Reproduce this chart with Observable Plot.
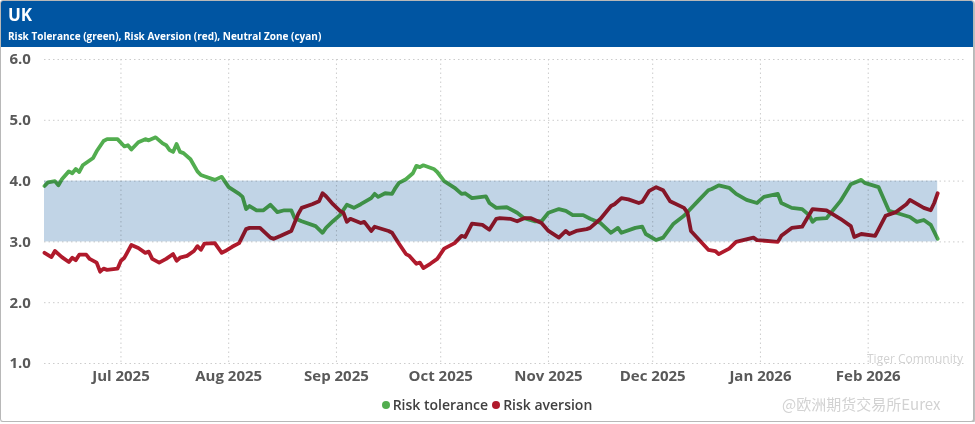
<!DOCTYPE html>
<html><head><meta charset="utf-8">
<script src="https://cdn.jsdelivr.net/npm/d3@7"></script>
<script src="https://cdn.jsdelivr.net/npm/@observablehq/plot@0.6"></script>
<style>
body{margin:0;background:#fff;font-family:"Open Sans",sans-serif;}
#card{position:relative;width:974px;height:422px;box-sizing:border-box;border:1px solid #b8b8b8;border-radius:3px;box-shadow:1px 1px 2px rgba(0,0,0,0.35);overflow:hidden;background:#fff}
#hdr{height:46px;background:#0055a2;color:#fff;position:relative}
#title{position:absolute;left:7px;top:2px;font-size:17px;font-weight:700}
#sub{position:absolute;left:7px;top:28px;font-size:10px;font-weight:700;white-space:nowrap}
#chart{position:absolute;left:0;top:46px}
#legend{position:absolute;left:0;width:100%;top:394px;text-align:center;font-size:14px;font-weight:600;color:#404040}
#legend span.dot{display:inline-block;width:8px;height:8px;border-radius:50%;margin-right:3px;vertical-align:1px}
.wm{position:absolute;color:#d2d2d2;white-space:nowrap}
</style>
</head><body>
<div id="card">
  <div id="hdr"><div id="title"></div><div id="sub"></div></div>
  <div id="chart"></div>
  <div id="legend"></div>
  <div class="wm" style="left:866px;top:349px;font-size:12px;">Tiger Community</div>
  <div class="wm" style="left:781px;top:392px;font-size:15px;font-family:'Noto Sans CJK SC',sans-serif;">@欧洲期货交易所Eurex</div>
</div>
<script>
const titleText = "UK";
const subtitleText = "Risk Tolerance (green), Risk Aversion (red), Neutral Zone (cyan)";
const seriesNames = ["Risk tolerance", "Risk aversion"];
const seriesColors = ["#52ad4f", "#b01a2c"];
const neutralZone = [3, 4];
const yTicks = [1, 2, 3, 4, 5, 6];
const monthTicks = ["2025-07-01","2025-08-01","2025-09-01","2025-10-01","2025-11-01","2025-12-01","2026-01-01","2026-02-01"];

const toleranceDates = ["2025-06-09","2025-06-10","2025-06-12","2025-06-13","2025-06-14","2025-06-16","2025-06-17","2025-06-18","2025-06-19","2025-06-20","2025-06-23","2025-06-24","2025-06-26","2025-06-27","2025-06-30","2025-07-02","2025-07-03","2025-07-04","2025-07-06","2025-07-08","2025-07-09","2025-07-11","2025-07-13","2025-07-14","2025-07-15","2025-07-16","2025-07-17","2025-07-18","2025-07-19","2025-07-21","2025-07-23","2025-07-24","2025-07-25","2025-07-28","2025-07-30","2025-08-01","2025-08-04","2025-08-05","2025-08-06","2025-08-07","2025-08-09","2025-08-11","2025-08-13","2025-08-15","2025-08-17","2025-08-19","2025-08-20","2025-08-22","2025-08-26","2025-08-28","2025-08-29","2025-08-31","2025-09-02","2025-09-04","2025-09-06","2025-09-08","2025-09-11","2025-09-12","2025-09-13","2025-09-15","2025-09-17","2025-09-18","2025-09-19","2025-09-21","2025-09-23","2025-09-24","2025-09-25","2025-09-26","2025-09-29","2025-09-30","2025-10-02","2025-10-05","2025-10-07","2025-10-08","2025-10-10","2025-10-14","2025-10-15","2025-10-17","2025-10-20","2025-10-23","2025-10-25","2025-10-28","2025-10-30","2025-11-01","2025-11-04","2025-11-06","2025-11-08","2025-11-11","2025-11-13","2025-11-16","2025-11-19","2025-11-21","2025-11-22","2025-11-26","2025-11-28","2025-11-29","2025-12-02","2025-12-04","2025-12-07","2025-12-10","2025-12-14","2025-12-17","2025-12-18","2025-12-20","2025-12-23","2025-12-25","2025-12-28","2025-12-31","2026-01-02","2026-01-06","2026-01-07","2026-01-10","2026-01-13","2026-01-15","2026-01-16","2026-01-17","2026-01-20","2026-01-24","2026-01-27","2026-01-30","2026-01-31","2026-02-04","2026-02-07","2026-02-09","2026-02-13","2026-02-15","2026-02-17","2026-02-19","2026-02-21"];
const toleranceValues = [3.92,3.98,4.00,3.93,4.03,4.16,4.13,4.20,4.15,4.26,4.38,4.49,4.66,4.69,4.69,4.57,4.59,4.52,4.64,4.69,4.67,4.72,4.62,4.59,4.51,4.48,4.61,4.48,4.46,4.36,4.16,4.10,4.08,4.02,4.07,3.90,3.79,3.74,3.54,3.59,3.52,3.52,3.61,3.49,3.52,3.52,3.39,3.34,3.26,3.15,3.23,3.34,3.44,3.61,3.56,3.62,3.72,3.79,3.74,3.80,3.79,3.89,3.97,4.03,4.13,4.25,4.23,4.26,4.20,4.15,4.00,3.89,3.79,3.80,3.72,3.75,3.64,3.56,3.57,3.48,3.39,3.34,3.34,3.48,3.54,3.51,3.44,3.44,3.38,3.31,3.15,3.23,3.15,3.23,3.25,3.13,3.03,3.07,3.30,3.43,3.67,3.85,3.87,3.93,3.89,3.79,3.69,3.64,3.74,3.79,3.64,3.56,3.54,3.44,3.33,3.38,3.39,3.67,3.95,4.02,3.97,3.90,3.51,3.48,3.41,3.33,3.36,3.28,3.05];

const aversionDates = ["2025-06-09","2025-06-11","2025-06-12","2025-06-14","2025-06-16","2025-06-17","2025-06-18","2025-06-19","2025-06-21","2025-06-22","2025-06-24","2025-06-25","2025-06-26","2025-06-27","2025-06-30","2025-07-01","2025-07-02","2025-07-04","2025-07-06","2025-07-08","2025-07-09","2025-07-10","2025-07-12","2025-07-14","2025-07-16","2025-07-17","2025-07-18","2025-07-20","2025-07-22","2025-07-23","2025-07-24","2025-07-25","2025-07-28","2025-07-30","2025-07-31","2025-08-02","2025-08-04","2025-08-06","2025-08-07","2025-08-10","2025-08-13","2025-08-14","2025-08-16","2025-08-19","2025-08-21","2025-08-22","2025-08-25","2025-08-27","2025-08-28","2025-08-29","2025-08-31","2025-09-02","2025-09-03","2025-09-04","2025-09-05","2025-09-08","2025-09-09","2025-09-11","2025-09-12","2025-09-16","2025-09-17","2025-09-19","2025-09-21","2025-09-22","2025-09-24","2025-09-25","2025-09-26","2025-09-28","2025-09-30","2025-10-02","2025-10-05","2025-10-07","2025-10-08","2025-10-10","2025-10-13","2025-10-15","2025-10-17","2025-10-18","2025-10-21","2025-10-23","2025-10-25","2025-10-27","2025-10-30","2025-11-01","2025-11-04","2025-11-06","2025-11-07","2025-11-09","2025-11-12","2025-11-13","2025-11-16","2025-11-19","2025-11-20","2025-11-22","2025-11-24","2025-11-27","2025-11-28","2025-11-30","2025-12-02","2025-12-04","2025-12-06","2025-12-10","2025-12-11","2025-12-12","2025-12-17","2025-12-19","2025-12-20","2025-12-23","2025-12-25","2025-12-30","2025-12-31","2026-01-06","2026-01-07","2026-01-10","2026-01-13","2026-01-16","2026-01-20","2026-01-24","2026-01-27","2026-01-28","2026-01-30","2026-02-03","2026-02-06","2026-02-09","2026-02-12","2026-02-13","2026-02-17","2026-02-19","2026-02-20","2026-02-21"];
const aversionValues = [2.82,2.75,2.85,2.75,2.67,2.74,2.70,2.79,2.79,2.72,2.66,2.51,2.56,2.54,2.56,2.69,2.74,2.95,2.90,2.82,2.84,2.72,2.66,2.72,2.80,2.69,2.74,2.77,2.85,2.93,2.87,2.97,2.98,2.82,2.85,2.92,2.98,3.21,3.23,3.23,3.07,3.05,3.10,3.18,3.46,3.56,3.62,3.67,3.80,3.75,3.62,3.51,3.48,3.33,3.38,3.31,3.33,3.18,3.25,3.18,3.15,2.97,2.80,2.77,2.64,2.66,2.57,2.64,2.72,2.89,2.98,3.10,3.08,3.30,3.28,3.20,3.38,3.39,3.38,3.34,3.39,3.39,3.31,3.18,3.07,3.18,3.13,3.18,3.21,3.23,3.38,3.59,3.62,3.72,3.70,3.64,3.66,3.84,3.90,3.85,3.67,3.56,3.48,3.18,2.87,2.85,2.80,2.89,3.00,3.07,3.03,3.00,3.10,3.23,3.25,3.54,3.52,3.38,3.26,3.08,3.13,3.10,3.43,3.49,3.62,3.69,3.56,3.52,3.64,3.80];

const parse = d3.utcParse("%Y-%m-%d");
const tolerance = toleranceDates.map((d, i) => ({date: parse(d), value: toleranceValues[i]}));
const aversion = aversionDates.map((d, i) => ({date: parse(d), value: aversionValues[i]}));
const xStart = tolerance[0].date, xEnd = tolerance[tolerance.length - 1].date;
const band = [{x1: xStart, x2: xEnd, y1: neutralZone[0], y2: neutralZone[1]}];
const ticks = monthTicks.map(parse);

document.getElementById("title").textContent = titleText;
document.getElementById("sub").textContent = subtitleText;

const plot = Plot.plot({
  width: 972,
  height: 345,
  marginTop: 12,
  marginBottom: 29,
  marginLeft: 43,
  marginRight: 8,
  style: {fontFamily: "'Open Sans', sans-serif", color: "#595959", background: "transparent"},
  x: {type: "utc", domain: [xStart, parse("2026-03-01")]},
  y: {domain: [1, 6]},
  marks: [
    Plot.gridX(ticks, {stroke: "#cccccc", strokeOpacity: 1, strokeDasharray: "1.5,3"}),
    Plot.gridY(yTicks, {stroke: "#cccccc", strokeOpacity: 1, strokeDasharray: "1.5,3"}),
    Plot.axisX(ticks, {tickSize: 0, tickPadding: 7, tickFormat: d3.utcFormat("%b %Y"), fontSize: 15, fontWeight: "bold", label: null}),
    Plot.axisY(yTicks, {tickSize: 0, tickPadding: 0, textAnchor: "start", dx: -35, tickFormat: d3.format(".1f"), fontSize: 15, fontWeight: "bold", label: null}),
    Plot.lineY(tolerance, {x: "date", y: "value", stroke: seriesColors[0], strokeWidth: 3.8, strokeLinejoin: "round"}),
    Plot.lineY(aversion, {x: "date", y: "value", stroke: seriesColors[1], strokeWidth: 3.8, strokeLinejoin: "round"}),
    Plot.rect(band, {x1: "x1", x2: "x2", y1: "y1", y2: "y2", fill: "#c1d4e6", mixBlendMode: "multiply"})
  ]
});
document.getElementById("chart").appendChild(plot);

const legend = document.getElementById("legend");
seriesNames.forEach((name, i) => {
  const item = document.createElement("span");
  item.style.marginRight = i === 0 ? "4px" : "0";
  const dot = document.createElement("span");
  dot.className = "dot";
  dot.style.background = seriesColors[i];
  item.appendChild(dot);
  item.appendChild(document.createTextNode(name));
  legend.appendChild(item);
});
</script>
</body></html>
